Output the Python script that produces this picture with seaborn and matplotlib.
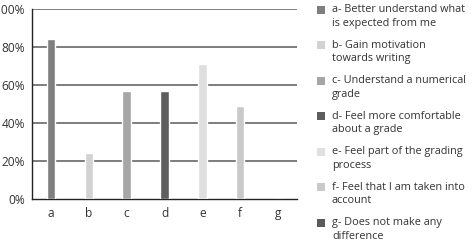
import matplotlib
matplotlib.use("Agg")
import matplotlib.pyplot as plt
import matplotlib.patches as mpatches
import seaborn as sns
import pandas as pd

categories = ["a", "b", "c", "d", "e", "f", "g"]
values = [84, 24, 56.5, 56.8, 71, 49, 0]
colors = ["#7f7f7f", "#d2d2d2", "#a6a6a6", "#5e5e5e", "#dfdfdf", "#c9c9c9", "#5a5a5a"]
legend_labels = [
    "a- Better understand what\nis expected from me",
    "b- Gain motivation\ntowards writing",
    "c- Understand a numerical\ngrade",
    "d- Feel more comfortable\nabout a grade",
    "e- Feel part of the grading\nprocess",
    "f- Feel that I am taken into\naccount",
    "g- Does not make any\ndifference",
]
yticks = [0, 20, 40, 60, 80, 100]
ytick_labels = ["0%", "20%", "40%", "60%", "80%", "100%"]

sns.set_theme(style="white")
plt.rcParams["font.family"] = ["Open Sans", "DejaVu Sans"]

df = pd.DataFrame({"cat": categories, "val": values})

W, H = 472, 240
fig = plt.figure(figsize=(W / 100, H / 100), dpi=100)
ax = fig.add_axes([32 / W, 41 / H, 265 / W, 190.5 / H])

sns.barplot(data=df, x="cat", y="val", hue="cat", palette=colors,
            width=0.22, dodge=False, legend=False, ax=ax, zorder=3)

ax.set_ylim(0, 100)
ax.set_yticks(yticks)
ax.set_yticklabels(ytick_labels, fontsize=8.6, color="#333333")
ax.tick_params(axis="x", labelsize=8.6, colors="#333333", pad=6, length=0)
ax.tick_params(axis="y", length=0, pad=5)
ax.set_xlabel("")
ax.set_ylabel("")
ax.set_xlim(-0.5, 6.5)

for y in yticks[1:]:
    ax.axhline(y, color="#5a5a5a", linewidth=1.1, zorder=1)

for s in ["top", "right"]:
    ax.spines[s].set_visible(False)
for s in ["left", "bottom"]:
    ax.spines[s].set_visible(True)
    ax.spines[s].set_color("#222222")
    ax.spines[s].set_linewidth(1.0)

# legend drawn manually: square aligned with the first line of each entry
entry_step = 35.5
line_step = 13.7
for i, (c, lab) in enumerate(zip(colors, legend_labels)):
    yc = 9.5 + i * entry_step  # px from top, centre of first line
    sq = 8.0
    fig.patches.append(mpatches.Rectangle(
        (317 / W, 1 - (yc + sq / 2) / H), sq / W, sq / H,
        transform=fig.transFigure, facecolor=c, edgecolor="none"))
    for j, line in enumerate(lab.split("\n")):
        fig.text(332 / W, 1 - (yc + j * line_step) / H, line,
                 fontsize=7.85, color="#333333", va="center", ha="left")

fig.savefig("out.png", dpi=100)
